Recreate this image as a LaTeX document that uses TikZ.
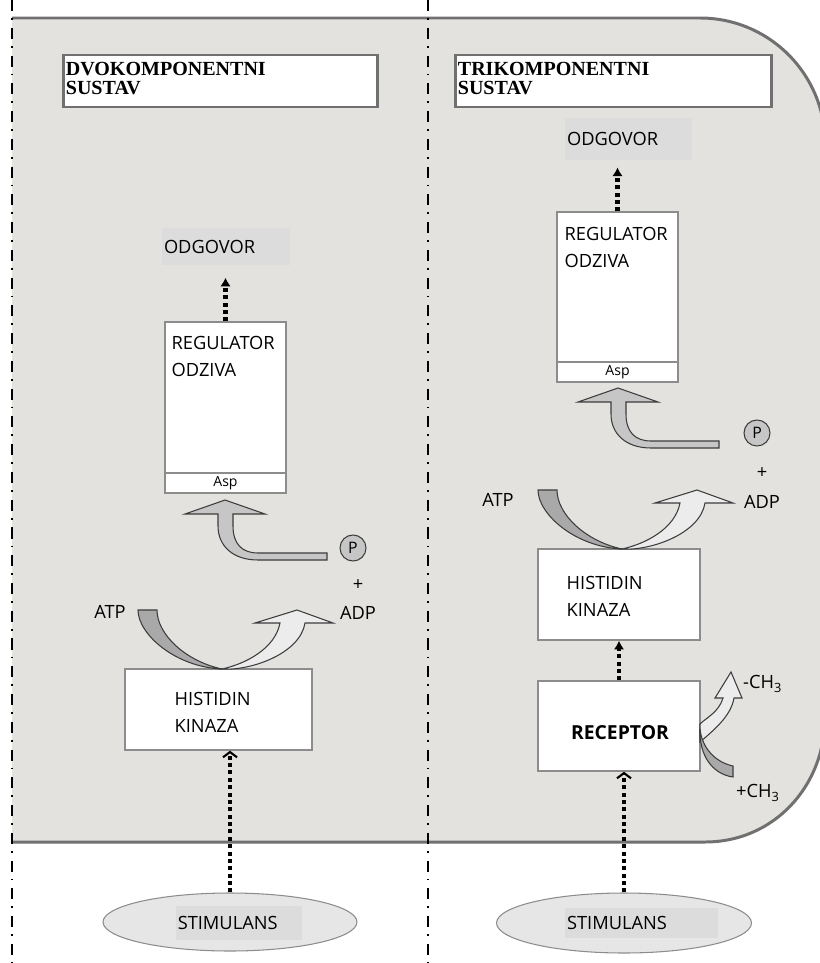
\documentclass[tikz,border=0pt]{standalone}
\usepackage{fontspec}
\setmainfont{Open Sans}
\newfontfamily\titlefont{Liberation Serif}
\usetikzlibrary{arrows.meta,shapes.geometric}

\definecolor{bgfill}{HTML}{E4E2DF}
\definecolor{bgline}{HTML}{707070}
\definecolor{boxline}{HTML}{8C8C8C}
\definecolor{tagfill}{HTML}{DCDCDC}
\definecolor{stimfill}{HTML}{E6E6E6}
\definecolor{darkshaft}{HTML}{A9A9A9}
\definecolor{lightshaft}{HTML}{ECECEC}
\definecolor{midshaft}{HTML}{C6C6C6}
\definecolor{shaftline}{HTML}{3C3C3C}

\newcommand{\bodysize}{\fontsize{10.4}{15.4}\selectfont}

\tikzset{
  dashdot/.style={line width=1.1pt, dash pattern=on 6.3pt off 4pt on 1pt off 4.5pt},
  titlebox/.style={draw=bgline, fill=white, line width=1.7pt, rectangle, inner sep=0pt},
  titletxt/.style={font=\titlefont\bfseries\fontsize{11.4}{10.8}\selectfont, align=left, inner sep=0pt},
  box/.style={draw=boxline, fill=white, line width=0.8pt, rectangle, inner sep=0pt},
  boxtxt/.style={align=left, inner sep=0pt},
  tag/.style={fill=tagfill, inner xsep=1pt, inner ysep=0pt, align=left},
  stim/.style={draw=boxline, fill=stimfill, ellipse, line width=0.6pt, inner sep=0pt},
  pcircle/.style={draw=shaftline, fill=midshaft, circle, line width=0.6pt, minimum size=0.52cm, inner sep=0pt, font=\fontsize{9}{9}\selectfont},
  dots/.style={line width=2.4pt, dash pattern=on 2.3pt off 1.9pt},
  darkarrow/.style={draw=shaftline, fill=darkshaft, line width=0.6pt},
  lightarrow/.style={draw=shaftline, fill=lightshaft, line width=0.6pt},
  grayarrow/.style={draw=shaftline, fill=midshaft, line width=0.6pt},
}

\begin{document}
\begin{tikzpicture}[x=0.02cm, y=-0.02cm, font=\bodysize]

    \useasboundingbox (0,0) rectangle (820,963);
    \clip (0,0) rectangle (820,963);

    % Cell background with rounded right side
    \fill[bgfill] (12,18) -- (700,18) .. controls (769,18) and (825,74) .. (825,143) -- (825,717) .. controls (825,786) and (774,842) .. (705,842) -- (12,842) -- cycle;
    \draw[bgline, line width=1.7pt] (12,18) -- (700,18) .. controls (769,18) and (825,74) .. (825,143) -- (825,717) .. controls (825,786) and (774,842) .. (705,842) -- (12,842);

    % Dash-dot separators
    \draw[dashdot] (12,0) -- (12,963);
    \draw[dashdot] (428,0) -- (428,963);

    % Left column: two-component system
    % Title
    \node[titlebox, minimum width=6.3cm, minimum height=1.04cm] (title1) at (220.5,81) {};
    \node[titletxt, anchor=north west] (title1txt) at ([shift={(4,8)}]title1.north west) {DVOKOMPONENTNI\\SUSTAV};
    % Response
    \node[tag, text width=2.48cm, minimum height=0.74cm] (odg1) at (226,246.5) {ODGOVOR};
    % Response regulator with Asp
    \node[box, minimum width=2.42cm, minimum height=3.42cm] (reg1) at (225.5,407.5) {};
    \node[boxtxt, anchor=north west] (reg1txt) at ([shift={(7,15)}]reg1.north west) {REGULATOR\\ODZIVA};
    \draw[boxline, line width=0.8pt] (reg1.west |- 0,473) -- (reg1.east |- 0,473);
    \node[font=\fontsize{8}{8}\selectfont, inner sep=0pt] (asp1) at (225.5,483) {Asp};
    % Histidine kinase
    \node[box, minimum width=3.74cm, minimum height=1.62cm] (hk1) at (218.5,709.5) {};
    \node[boxtxt, anchor=north west] (hk1txt) at ([shift={(50,24)}]hk1.north west) {HISTIDIN\\KINAZA};
    % Stimulus
    \node[stim, minimum width=5.08cm, minimum height=1.16cm] (stim1) at (230,922) {};
    \node[tag, text width=2.45cm, minimum height=0.68cm] (stim1txt) at (239,923) {STIMULANS};
    % Phosphate transfer
    \node[pcircle] (p1) at (353,548) {P};
    \node (plus1) at (358,585) {+};
    \node (adp1) at (358,613) {ADP};
    \node (atp1) at (110,612) {ATP};
    \begin{scope}[shift={(225,500)}]
      \filldraw[grayarrow] (0,0) -- (40,14) -- (8,14) -- (8,26) .. controls (8,44) and (17,53) .. (33,53) -- (102,53) -- (102,60) -- (33,60) .. controls (8,60) and (-7,46) .. (-7,26) -- (-7,14) -- (-40,14) -- cycle;
    \end{scope}
    \begin{scope}[shift={(225,669)}]
      \filldraw[darkarrow] (-87,-59) -- (-68,-59) .. controls (-68,-35) and (-40,-8) .. (-3,0) .. controls (-50,-2) and (-87,-35) .. (-87,-59) -- cycle;
      \filldraw[lightarrow] (-3,0) .. controls (25,2) and (75,-15) .. (80,-46) -- (108,-46) -- (72,-59) -- (30,-46) -- (55,-46) .. controls (50,-20) and (20,-5) .. (-3,0) -- cycle;
    \end{scope}
    % Signal connectors
    \draw[dots, -{Latex[length=5pt,width=6pt]}, shorten >=7pt] (reg1.north) -- (reg1.north |- odg1.south);
    \draw[dots, -{Straight Barb[length=3pt,width=8pt,line width=1.2pt]}] (stim1.north) -- (stim1.north |- hk1.south);

    % Right column: three-component system
    % Title
    \node[titlebox, minimum width=6.34cm, minimum height=1.04cm] (title2) at (613.5,81) {};
    \node[titletxt, anchor=north west] (title2txt) at ([shift={(4,8)}]title2.north west) {TRIKOMPONENTNI\\SUSTAV};
    % Response
    \node[tag, text width=2.46cm, minimum height=0.84cm] (odg2) at (628.5,139) {ODGOVOR};
    % Response regulator with Asp
    \node[box, minimum width=2.42cm, minimum height=3.4cm] (reg2) at (617.5,297) {};
    \node[boxtxt, anchor=north west] (reg2txt) at ([shift={(8,16)}]reg2.north west) {REGULATOR\\ODZIVA};
    \draw[boxline, line width=0.8pt] (reg2.west |- 0,362) -- (reg2.east |- 0,362);
    \node[font=\fontsize{8}{8}\selectfont, inner sep=0pt] (asp2) at (617.5,372) {Asp};
    % Histidine kinase
    \node[box, minimum width=3.24cm, minimum height=1.82cm] (hk2) at (619,594.5) {};
    \node[boxtxt, anchor=north west] (hk2txt) at ([shift={(29,28)}]hk2.north west) {HISTIDIN\\KINAZA};
    % Receptor
    \node[box, minimum width=3.24cm, minimum height=1.8cm] (rec) at (619,726) {};
    \node[font=\fontsize{11}{15}\selectfont\bfseries] (rectxt) at (620,733) {RECEPTOR};
    % Stimulus
    \node[stim, minimum width=5.1cm, minimum height=1.2cm] (stim2) at (624,923) {};
    \node[tag, minimum height=0.6cm, text width=2.98cm] (stim2txt) at (641.5,923) {STIMULANS};
    % Phosphate transfer
    \node[pcircle] (p2) at (757,433) {P};
    \node (plus2) at (762,473) {+};
    \node (adp2) at (762,502) {ADP};
    \node (atp2) at (498,500) {ATP};
    \begin{scope}[shift={(618,388)}]
      \filldraw[grayarrow] (0,0) -- (40,14) -- (8,14) -- (8,26) .. controls (8,44) and (17,53) .. (33,53) -- (101,53) -- (101,60) -- (33,60) .. controls (8,60) and (-7,46) .. (-7,26) -- (-7,14) -- (-40,14) -- cycle;
    \end{scope}
    \begin{scope}[shift={(625,549)}]
      \filldraw[darkarrow] (-87,-59) -- (-68,-59) .. controls (-68,-35) and (-40,-8) .. (-3,0) .. controls (-50,-2) and (-87,-35) .. (-87,-59) -- cycle;
      \filldraw[lightarrow] (-3,0) .. controls (25,2) and (75,-15) .. (80,-46) -- (108,-46) -- (72,-59) -- (30,-46) -- (55,-46) .. controls (50,-20) and (20,-5) .. (-3,0) -- cycle;
    \end{scope}
    % Methylation
    \filldraw[lightarrow] (700,742) .. controls (714,730) and (731,716) .. (734,698) -- (742,698) -- (731,672) -- (715,698) -- (723,698) .. controls (719,712) and (706,718) .. (700,724) -- cycle;
    \filldraw[darkarrow] (700,729) .. controls (699,755) and (712,774) .. (733,777) -- (733,766) .. controls (715,762) and (702,748) .. (700,729) -- cycle;
    \node[anchor=west] (minusch) at (737,684) {-CH\textsubscript{3}};
    \node[anchor=west] (plusch) at (730,793) {+CH\textsubscript{3}};
    % Signal connectors
    \draw[dots, -{Latex[length=5pt,width=6pt]}, shorten >=4pt] (reg2.north) -- (reg2.north |- odg2.south);
    \draw[dots, -{Latex[length=5pt,width=6pt]}] (rec.north) -- (hk2.south);
    \draw[dots, -{Straight Barb[length=3pt,width=8pt,line width=1.2pt]}] (stim2.north) -- (stim2.north |- rec.south);

\end{tikzpicture}
\end{document}
